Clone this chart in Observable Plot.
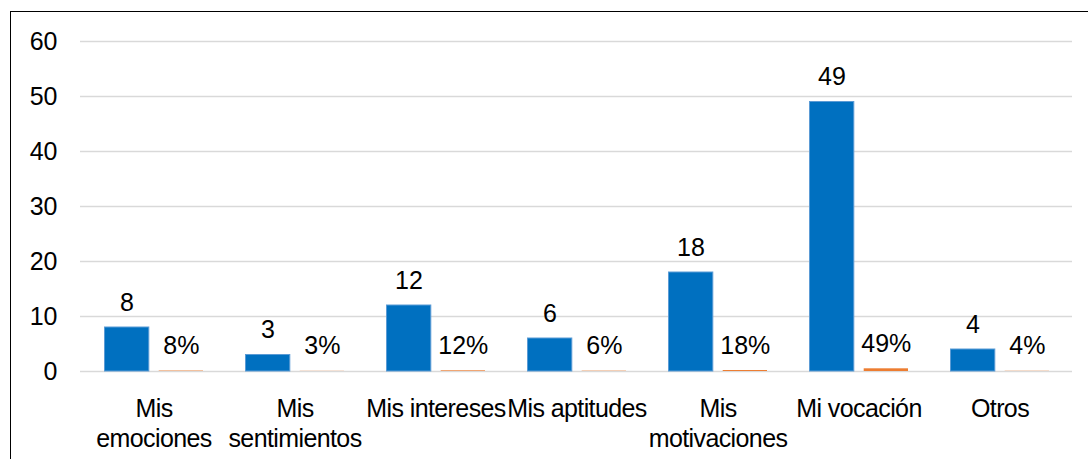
<!DOCTYPE html>
<html>
<head>
<meta charset="utf-8">
<script src="https://cdn.jsdelivr.net/npm/d3@7"></script>
<script src="https://cdn.jsdelivr.net/npm/@observablehq/plot@0.6"></script>
<style>
  html, body { margin: 0; padding: 0; background: #fff; overflow: hidden; }
  #wrap { position: relative; width: 1088px; height: 459px; overflow: hidden; }
  #frame { position: absolute; left: 10px; top: 11px; width: 1200px; height: 600px; border: 1.5px solid #000; box-sizing: border-box; }
  #chart { position: absolute; left: 0; top: 0; }
  #chart svg [aria-label="x-axis tick label"] text { letter-spacing: -0.6px; }
</style>
</head>
<body>
<div id="wrap">
  <div id="frame"></div>
  <div id="chart"></div>
</div>
<script>
const categories = ["Mis emociones", "Mis sentimientos", "Mis intereses", "Mis aptitudes", "Mis motivaciones", "Mi vocación", "Otros"];
const categoryLabels = ["Mis\nemociones", "Mis\nsentimientos", "Mis intereses", "Mis aptitudes", "Mis\nmotivaciones", "Mi vocación", "Otros"];
const counts = [8, 3, 12, 6, 18, 49, 4];
const percents = [0.08, 0.03, 0.12, 0.06, 0.18, 0.49, 0.04];
const yTicks = [0, 10, 20, 30, 40, 50, 60];

const pct = d3.format(".0%");
const countRows = categories.map((c, i) => ({cat: c, value: counts[i], label: String(counts[i])}));
const pctRows = categories.map((c, i) => ({cat: c, value: percents[i], label: pct(percents[i])}));

const chart = Plot.plot({
  width: 1088,
  height: 459,
  marginLeft: 80,
  marginRight: 16,
  marginTop: 41,
  marginBottom: 88,
  style: {fontFamily: "'Liberation Sans', Arial, sans-serif", fontSize: "25px", background: "transparent", color: "#000", overflow: "visible"},
  x: {domain: categories, padding: 0, label: null},
  y: {domain: [0, 60], label: null},
  marks: [
    Plot.gridY(yTicks, {stroke: "#d9d9d9", strokeOpacity: 1, strokeWidth: 1.5}),
    Plot.axisY(yTicks, {tickSize: 0, tickPadding: 23, fontSize: 25, label: null}),
    Plot.axisX({
      tickSize: 0, tickPadding: 24, fontSize: 25, lineHeight: 1.2, label: null,
      tickFormat: c => categoryLabels[categories.indexOf(c)]
    }),
    Plot.barY(countRows, {x: "cat", y: "value", fill: "#0070c0", stroke: "#5b9bd5", strokeWidth: 1, insetLeft: 21.5, insetRight: 75.2}),
    Plot.barY(pctRows, {x: "cat", y: "value", fill: "#ed7d31", insetLeft: 75.7, insetRight: 21}),
    Plot.text(countRows, {x: "cat", y: "value", text: "label", dx: -27, dy: -25, lineAnchor: "middle", fontSize: 25, fill: "#000"}),
    Plot.text(pctRows, {x: "cat", y: "value", text: "label", dx: 27.3, dy: -25, lineAnchor: "middle", fontSize: 25, fill: "#000"})
  ]
});
document.getElementById("chart").appendChild(chart);
</script>
</body>
</html>
